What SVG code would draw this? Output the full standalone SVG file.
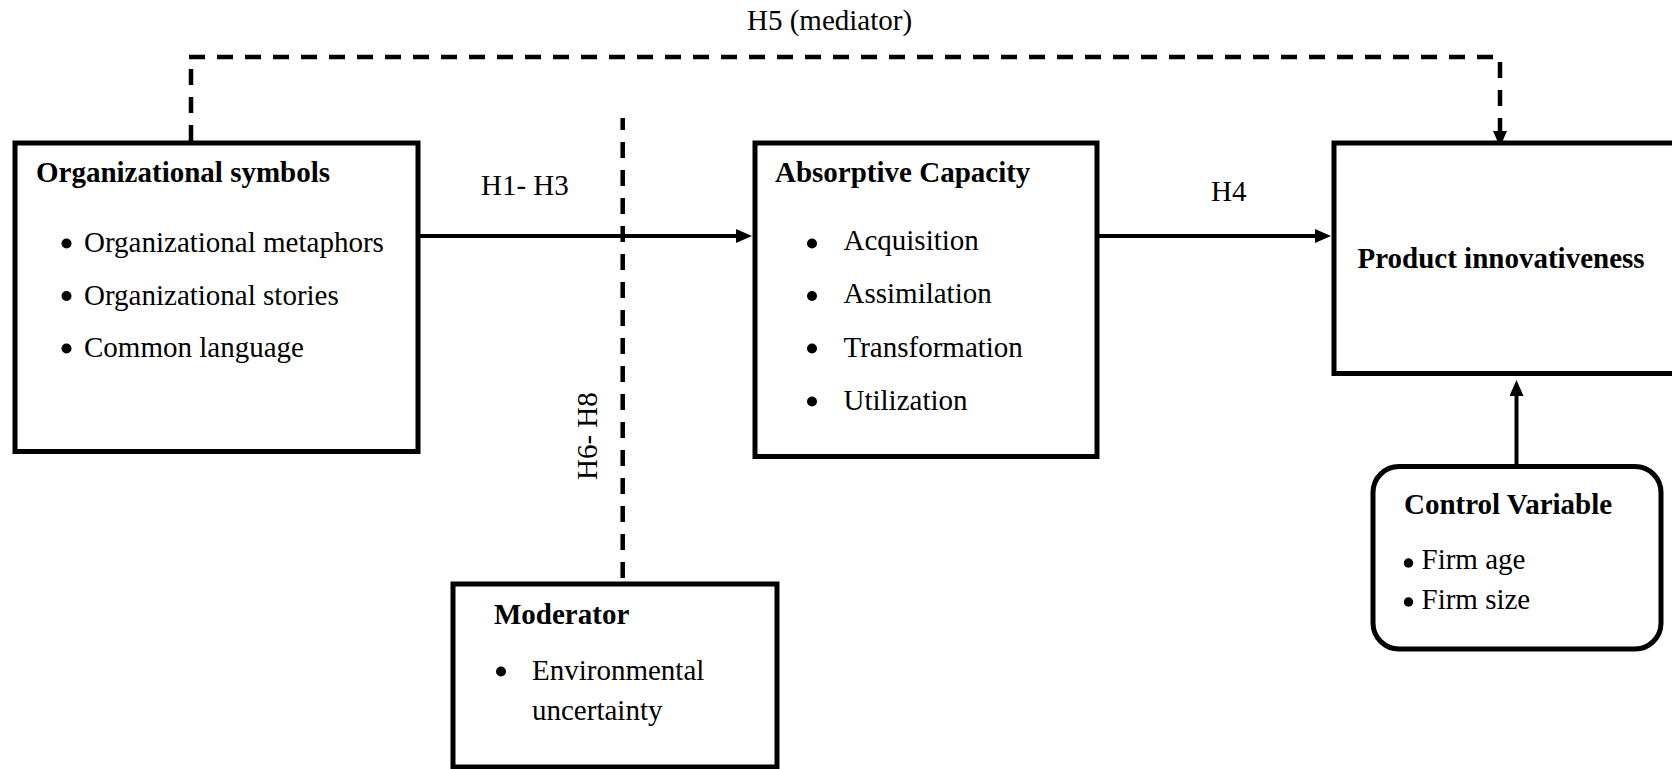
<svg xmlns="http://www.w3.org/2000/svg" width="1672" height="769" viewBox="0 0 1672 769">
  <defs>
    <!-- tip sits 8px past the line end so the stroke hides under the head -->
    <marker id="arrow" markerWidth="16" markerHeight="14" refX="8" refY="7" orient="auto" markerUnits="userSpaceOnUse">
      <path d="M0,0 L16,7 L0,14 z" fill="#000"/>
    </marker>
  </defs>
  <style>
    text { font-family: "Liberation Serif", "Times New Roman", serif; font-size: 29px; fill: #000; }
    .b { font-weight: bold; }
    .dot { fill: #000; }
    .box { fill: #fff; stroke: #000; stroke-width: 5; }
    .solid { fill: none; stroke: #000; stroke-width: 4; }
    .dash { fill: none; stroke: #000; stroke-width: 4.5; stroke-dasharray: 16 12; }
  </style>

  <rect width="1672" height="769" fill="#fff"/>

  <!-- connectors -->
  <g id="connectors">
    <!-- H5 mediator path over the top -->
    <line class="dash" x1="191" y1="141" x2="191" y2="57"/>
    <line class="dash" x1="189" y1="57" x2="1497" y2="57"/>
    <line class="dash" x1="1500" y1="62" x2="1500" y2="139" marker-end="url(#arrow)"/>
    <!-- H6-H8 moderation line -->
    <line class="dash" x1="622.7" y1="118" x2="622.7" y2="582" stroke-dashoffset="4"/>
    <!-- H1-H3 -->
    <line class="solid" x1="420" y1="236" x2="744" y2="236" marker-end="url(#arrow)"/>
    <!-- H4 -->
    <line class="solid" x1="1099" y1="236" x2="1323" y2="236" marker-end="url(#arrow)"/>
    <!-- control variables -->
    <line class="solid" x1="1516.5" y1="464" x2="1516.5" y2="388" marker-end="url(#arrow)"/>

    <text x="747" y="30">H5 (mediator)</text>
    <text x="481" y="195">H1- H3</text>
    <text x="1211" y="201">H4</text>
    <text transform="translate(597,480) rotate(-90)">H6- H8</text>
  </g>

  <g id="org-symbols">
    <rect class="box" x="15" y="143" width="403" height="308.5"/>
    <text class="b" x="36" y="182">Organizational symbols</text>
    <circle class="dot" cx="66.5" cy="243.5" r="5"/>
    <text x="84" y="252">Organizational metaphors</text>
    <circle class="dot" cx="66.5" cy="296" r="5"/>
    <text x="84" y="304.5">Organizational stories</text>
    <circle class="dot" cx="66.5" cy="348.5" r="5"/>
    <text x="84" y="357">Common language</text>
  </g>

  <g id="absorptive-capacity">
    <rect class="box" x="755" y="143" width="342" height="313.5"/>
    <text class="b" x="775" y="182">Absorptive Capacity</text>
    <circle class="dot" cx="812" cy="243.5" r="5"/>
    <text x="843.5" y="250">Acquisition</text>
    <circle class="dot" cx="812" cy="296" r="5"/>
    <text x="843.5" y="303">Assimilation</text>
    <circle class="dot" cx="812" cy="348.5" r="5"/>
    <text x="843.5" y="357">Transformation</text>
    <circle class="dot" cx="812" cy="401.5" r="5"/>
    <text x="843.5" y="410">Utilization</text>
  </g>

  <g id="product-innovativeness">
    <rect class="box" x="1334" y="143" width="400" height="230.5"/>
    <text class="b" x="1357.5" y="268">Product innovativeness</text>
  </g>

  <g id="moderator">
    <rect class="box" x="453" y="584" width="324" height="183"/>
    <text class="b" x="494" y="624">Moderator</text>
    <circle class="dot" cx="501" cy="671.5" r="5"/>
    <text x="532" y="680">Environmental</text>
    <text x="532" y="720">uncertainty</text>
  </g>

  <g id="control-variable">
    <rect class="box" x="1373" y="466.5" width="288" height="182.5" rx="26" ry="26"/>
    <text class="b" x="1404" y="514">Control Variable</text>
    <circle class="dot" cx="1408.5" cy="563" r="4.7"/>
    <text x="1421.5" y="569">Firm age</text>
    <circle class="dot" cx="1408.5" cy="602" r="4.7"/>
    <text x="1421.5" y="609">Firm size</text>
  </g>
</svg>
